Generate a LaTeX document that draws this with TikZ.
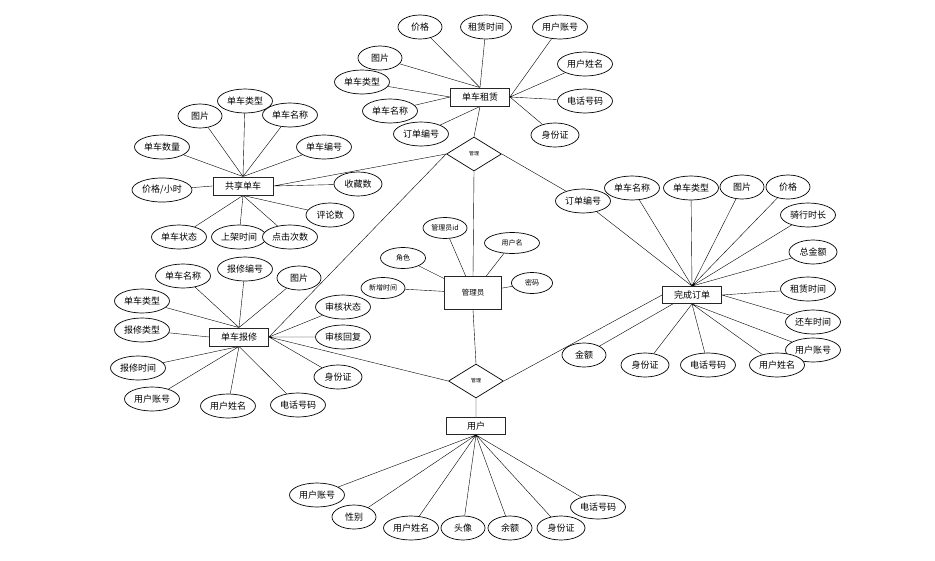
\documentclass[tikz,border=0pt]{standalone}
\usepackage{fontspec}
\setmainfont{Noto Sans CJK SC}
\usetikzlibrary{shapes.geometric,backgrounds}

\begin{document}
\begin{tikzpicture}[x=1pt,y=-1pt,font=\fontsize{9}{10}\selectfont,
  ent/.style={draw=black!85,line width=0.9pt,fill=white,minimum width=59pt,minimum height=18pt,inner sep=0pt},
  att/.style={draw,ellipse,line width=0.7pt,fill=white,minimum width=55pt,minimum height=24pt,inner sep=0pt},
  sm/.style={att,minimum width=44pt},
  md/.style={att,minimum width=48pt},
  gl/.style={att,minimum width=44pt,minimum height=21pt,font=\fontsize{7}{8}\selectfont},
  rel/.style={draw,diamond,line width=0.7pt,fill=white,minimum width=55pt,minimum height=34pt,inner sep=0pt,font=\fontsize{5}{5}\selectfont},
  ln/.style={line width=0.6pt}]
  \useasboundingbox (0,0) rectangle (935,560);

  \node[ent] (zl) at (480,97) {单车租赁};
  \node[ent,minimum width=60pt] (gx) at (243,186) {共享单车};
  \node[ent] (bx) at (239,337) {单车报修};
  \node[ent,minimum width=57pt,minimum height=33pt,font=\fontsize{7.5}{8}\selectfont] (gly) at (473,293) {管理员};
  \node[ent,minimum height=17pt] (wc) at (692,295) {完成订单};
  \node[ent,minimum height=17pt] (yh) at (476,426) {用户};
  \node[rel] (d1) at (474,154) {管理};
  \node[rel] (d2) at (476,381) {管理};

  \node[sm] (zl1) at (420,27) {价格};
  \node[att,minimum width=50pt] (zl2) at (486,27) {租赁时间};
  \node[att] (zl3) at (560,27) {用户账号};
  \node[sm] (zl4) at (380,58) {图片};
  \node[att] (zl5) at (362,82) {单车类型};
  \node[att] (zl6) at (585,64) {用户姓名};
  \node[att] (zl7) at (585,101) {电话号码};
  \node[att] (zl8) at (390,111) {单车名称};
  \node[att] (zl9) at (421,134) {订单编号};
  \node[md] (zl10) at (555,135) {身份证};

  \node[att] (gx1) at (245,101) {单车类型};
  \node[sm] (gx2) at (200,116) {图片};
  \node[att] (gx3) at (290,115) {单车名称};
  \node[att] (gx4) at (162,147) {单车数量};
  \node[att] (gx5) at (324,147) {单车编号};
  \node[att,minimum width=60pt] (gx6) at (162,190) {价格/小时};
  \node[md] (gx7) at (358,184) {收藏数};
  \node[md] (gx8) at (330,215) {评论数};
  \node[att] (gx9) at (179,237) {单车状态};
  \node[att] (gx10) at (239,237) {上架时间};
  \node[att] (gx11) at (290,237) {点击次数};

  \node[att] (bx1) at (183,276) {单车名称};
  \node[att] (bx2) at (245,269) {报修编号};
  \node[sm] (bx3) at (299,278) {图片};
  \node[att] (bx4) at (142,301) {单车类型};
  \node[att] (bx5) at (142,330) {报修类型};
  \node[att] (bx6) at (343,307) {审核状态};
  \node[att] (bx7) at (343,337) {审核回复};
  \node[att] (bx8) at (138,368) {报修时间};
  \node[att] (bx9) at (152,399) {用户账号};
  \node[att] (bx10) at (228,406) {用户姓名};
  \node[att] (bx11) at (298,405) {电话号码};
  \node[md] (bx12) at (338,377) {身份证};

  \node[gl] (gl1) at (445,228) {管理员id};
  \node[gl,minimum width=55pt] (gl2) at (512,243) {用户名};
  \node[gl,minimum width=45pt] (gl3) at (403,258) {角色};
  \node[gl,minimum width=41pt] (gl4) at (532,283) {密码};
  \node[gl] (gl5) at (383,288) {新增时间};

  \node[att] (wc1) at (583,201) {订单编号};
  \node[att] (wc2) at (632,188) {单车名称};
  \node[att] (wc3) at (691,188) {单车类型};
  \node[sm] (wc4) at (742,187) {图片};
  \node[sm] (wc5) at (788,187) {价格};
  \node[att] (wc6) at (808,215) {骑行时长};
  \node[md] (wc7) at (813,252) {总金额};
  \node[att] (wc8) at (808,289) {租赁时间};
  \node[att] (wc9) at (813,322) {还车时间};
  \node[att] (wc10) at (813,350) {用户账号};
  \node[att] (wc11) at (777,365) {用户姓名};
  \node[att] (wc12) at (708,365) {电话号码};
  \node[md] (wc13) at (645,365) {身份证};
  \node[sm] (wc14) at (584,355) {金额};

  \node[att] (yh1) at (317,495) {用户账号};
  \node[sm] (yh2) at (354,517) {性别};
  \node[att] (yh3) at (411,528) {用户姓名};
  \node[sm] (yh4) at (463,528) {头像};
  \node[sm] (yh5) at (510,528) {余额};
  \node[md] (yh6) at (561,528) {身份证};
  \node[att] (yh7) at (598,507) {电话号码};

  \begin{scope}[on background layer,ln]
  \draw (zl1)--(zl.north) (zl2)--(zl.north) (zl4)--(zl.north) (zl5)--(zl.west) (zl8)--(zl.west) (zl9)--(zl.south);
  \draw (zl3)--(zl.east) (zl6)--(zl.east) (zl7)--(zl.east) (zl10)--(zl.east) (d1.north)--(zl.south);
  \draw (gx1)--(gx.north) (gx2)--(gx.north) (gx3)--(gx.north) (gx4)--(gx.north) (gx5)--(gx.north) (gx6)--(gx.west);
  \draw (gx7)--(gx.east) (d1.west)--(gx.east) (gx8)--(gx.south) (gx9)--(gx.south) (gx10)--(gx.south) (gx11)--(gx.south);
  \draw (bx1)--(bx.north) (bx2)--(bx.north) (bx3)--(bx.north) (bx4)--(bx.north) (bx5)--(bx.west);
  \draw (bx8)--(bx.south) (bx9)--(bx.south) (bx10)--(bx.south) (bx11)--(bx.south);
  \draw (bx6)--(bx.east) (bx7)--(bx.east) (bx12)--(bx.east) (d1.west)--(bx.east) (d2.west)--(bx.east);
  \draw (gl1)--(gly) (gl2)--(gly) (gl3)--(gly) (gl4)--(gly) (gl5)--(gly) (d1.south)--(gly.north) (gly.south)--(d2.north);
  \draw (d1.east)--(wc1) (wc1)--(wc.north) (wc2)--(wc.north) (wc3)--(wc.north) (wc4)--(wc.north) (wc5)--(wc.north) (wc6)--(wc.north) (wc7)--(wc.north);
  \draw (wc8)--(wc.east) (wc9)--(wc.east) (wc10)--(wc.south) (wc11)--(wc.south) (wc12)--(wc.south) (wc13)--(wc.south) (wc14)--(wc.205) (d2.east)--(wc.west);
  \draw (d2.south)--(yh.north) (yh1)--(yh.south) (yh2)--(yh.south) (yh3)--(yh.south) (yh4)--(yh.south) (yh5)--(yh.south) (yh6)--(yh.south) (yh7)--(yh.south);
  \end{scope}
\end{tikzpicture}
\end{document}
